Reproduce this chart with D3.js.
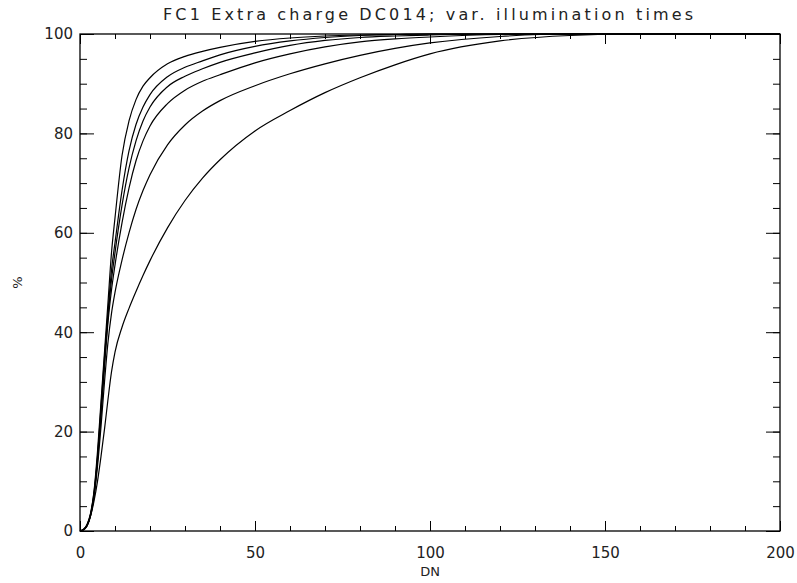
<!DOCTYPE html>
<html>
<head>
<meta charset="utf-8">
<script src="https://cdn.jsdelivr.net/npm/d3@7"></script>
<style>
  body { margin: 0; background: #fff; }
  text { font-family: 'DejaVu Sans', sans-serif; fill: #222; }
</style>
</head>
<body>
<div class="chart"></div>
<script>
const margin = { top: 34, right: 17, bottom: 52, left: 80 }
const width = 797 - margin.left - margin.right
const height = 583 - margin.top - margin.bottom

// DN sample points shared by all curves
const dn = [0, 1, 2, 3, 4, 5, 6, 7, 8, 9, 10, 12, 14, 16, 18, 20, 25, 30, 35, 40, 50, 60, 70, 80, 90, 100, 120, 140, 160, 180, 200]

// cumulative percentage, one array per illumination time (steepest first)
const curveA = [0, 0.3, 1.3, 3.5, 8, 16, 26, 36, 46, 56, 63, 75.5, 82.5, 86.8, 89.5, 91.2, 94, 95.5, 96.5, 97.3, 98.5, 99.2, 99.6, 99.8, 99.9, 100, 100, 100, 100, 100, 100]
const curveB = [0, 0.3, 1.2, 3.4, 7.7, 15, 25, 35, 44, 52.5, 58, 68.5, 76.5, 81.8, 85.3, 87.8, 91.4, 93.3, 94.6, 95.8, 97.5, 98.6, 99.3, 99.7, 99.9, 100, 100, 100, 100, 100, 100]
const curveC = [0, 0.3, 1.1, 3.2, 7.3, 14.5, 24, 34, 43, 50.5, 56, 65.5, 73, 78.5, 82.5, 85.3, 89.4, 91.5, 93, 94.3, 96.2, 97.7, 98.7, 99.3, 99.6, 99.8, 100, 100, 100, 100, 100]
const curveD = [0, 0.3, 1.1, 3.1, 7.1, 14, 23, 33, 42, 48.5, 53.5, 62, 69, 74.5, 78.5, 81.5, 86, 88.7, 90.5, 91.8, 94.2, 96, 97.4, 98.4, 99, 99.4, 99.9, 100, 100, 100, 100]
const curveE = [0, 0.3, 1.0, 3.0, 6.8, 13, 21, 30, 38, 43.8, 48, 54.5, 60, 64.7, 68.5, 71.7, 77.7, 81.7, 84.5, 86.6, 89.6, 92, 94, 95.7, 97.1, 98.2, 99.5, 100, 100, 100, 100]
const curveF = [0, 0.2, 1.0, 3.0, 6.0, 10, 15, 20.5, 26.5, 32, 36, 41, 44.8, 48.2, 51.4, 54.4, 61, 66.5, 71, 74.7, 80.5, 84.6, 88.2, 91.2, 93.8, 96, 98.6, 99.7, 100, 100, 100]
const series = [curveA, curveB, curveC, curveD, curveE, curveF]

const xMajor = [0, 50, 100, 150, 200]
const xMinor = d3.range(0, 201, 10)
const yMajor = [0, 20, 40, 60, 80, 100]
const yMinor = d3.range(0, 101, 5)

const titleText = 'FC1 Extra charge DC014; var. illumination times'

const svg = d3
  .select('.chart')
  .append('svg')
  .attr('width', 797)
  .attr('height', 583)
  .append('g')
  .attr('transform', `translate(${margin.left}, ${margin.top})`)

const xScale = d3.scaleLinear().domain([0, 200]).range([0, width])
const yScale = d3.scaleLinear().domain([0, 100]).range([height, 0])

// ticks point inward on all four sides, IDL style
const xTickLen = 10
const yTickLen = 14

function tickAxis(g, axis) {
  g.call(axis)
  g.select('.domain').remove()
  g.selectAll('.tick line').attr('stroke', '#000')
  g.selectAll('text').attr('font-size', 15).attr('fill', '#222')
}

svg.append('g').attr('transform', `translate(0, ${height})`)
  .call(g => tickAxis(g, d3.axisBottom(xScale).tickValues(xMinor).tickSize(-xTickLen / 2).tickFormat('')))
svg.append('g').attr('transform', `translate(0, ${height})`)
  .call(g => tickAxis(g, d3.axisBottom(xScale).tickValues(xMajor).tickSize(-xTickLen).tickPadding(16).tickFormat(d3.format('d'))))
svg.append('g')
  .call(g => tickAxis(g, d3.axisTop(xScale).tickValues(xMinor).tickSize(-xTickLen / 2).tickFormat('')))
svg.append('g')
  .call(g => tickAxis(g, d3.axisTop(xScale).tickValues(xMajor).tickSize(-xTickLen).tickFormat('')))

svg.append('g')
  .call(g => tickAxis(g, d3.axisLeft(yScale).tickValues(yMinor).tickSize(-yTickLen / 2).tickFormat('')))
svg.append('g')
  .call(g => tickAxis(g, d3.axisLeft(yScale).tickValues(yMajor).tickSize(-yTickLen).tickPadding(7).tickFormat(d3.format('d'))))
svg.append('g').attr('transform', `translate(${width}, 0)`)
  .call(g => tickAxis(g, d3.axisRight(yScale).tickValues(yMinor).tickSize(-yTickLen / 2).tickFormat('')))
svg.append('g').attr('transform', `translate(${width}, 0)`)
  .call(g => tickAxis(g, d3.axisRight(yScale).tickValues(yMajor).tickSize(-yTickLen).tickFormat('')))

// plot frame
svg.append('rect').attr('width', width).attr('height', height)
  .attr('fill', 'none').attr('stroke', '#000').attr('stroke-width', 1.3)

const line = d3.line()
  .x((d, i) => xScale(dn[i]))
  .y(d => yScale(d))
  .curve(d3.curveMonotoneX)

svg.selectAll('.curve')
  .data(series)
  .join('path')
  .attr('class', 'curve')
  .attr('d', line)
  .attr('fill', 'none')
  .attr('stroke', '#000')
  .attr('stroke-width', 1.2)

// title and axis titles
svg.append('text')
  .attr('x', width / 2 - 2)
  .attr('y', -14)
  .attr('text-anchor', 'middle')
  .attr('font-size', 16)
  .attr('textLength', 530)
  .attr('lengthAdjust', 'spacing')
  .text(titleText)

svg.append('text')
  .attr('x', width / 2)
  .attr('y', height + 45)
  .attr('text-anchor', 'middle')
  .attr('font-size', 13)
  .text('DN')

svg.append('text')
  .attr('transform', `translate(${-58}, ${height / 2}) rotate(-90)`)
  .attr('text-anchor', 'middle')
  .attr('font-size', 13)
  .text('%')
</script>
</body>
</html>
